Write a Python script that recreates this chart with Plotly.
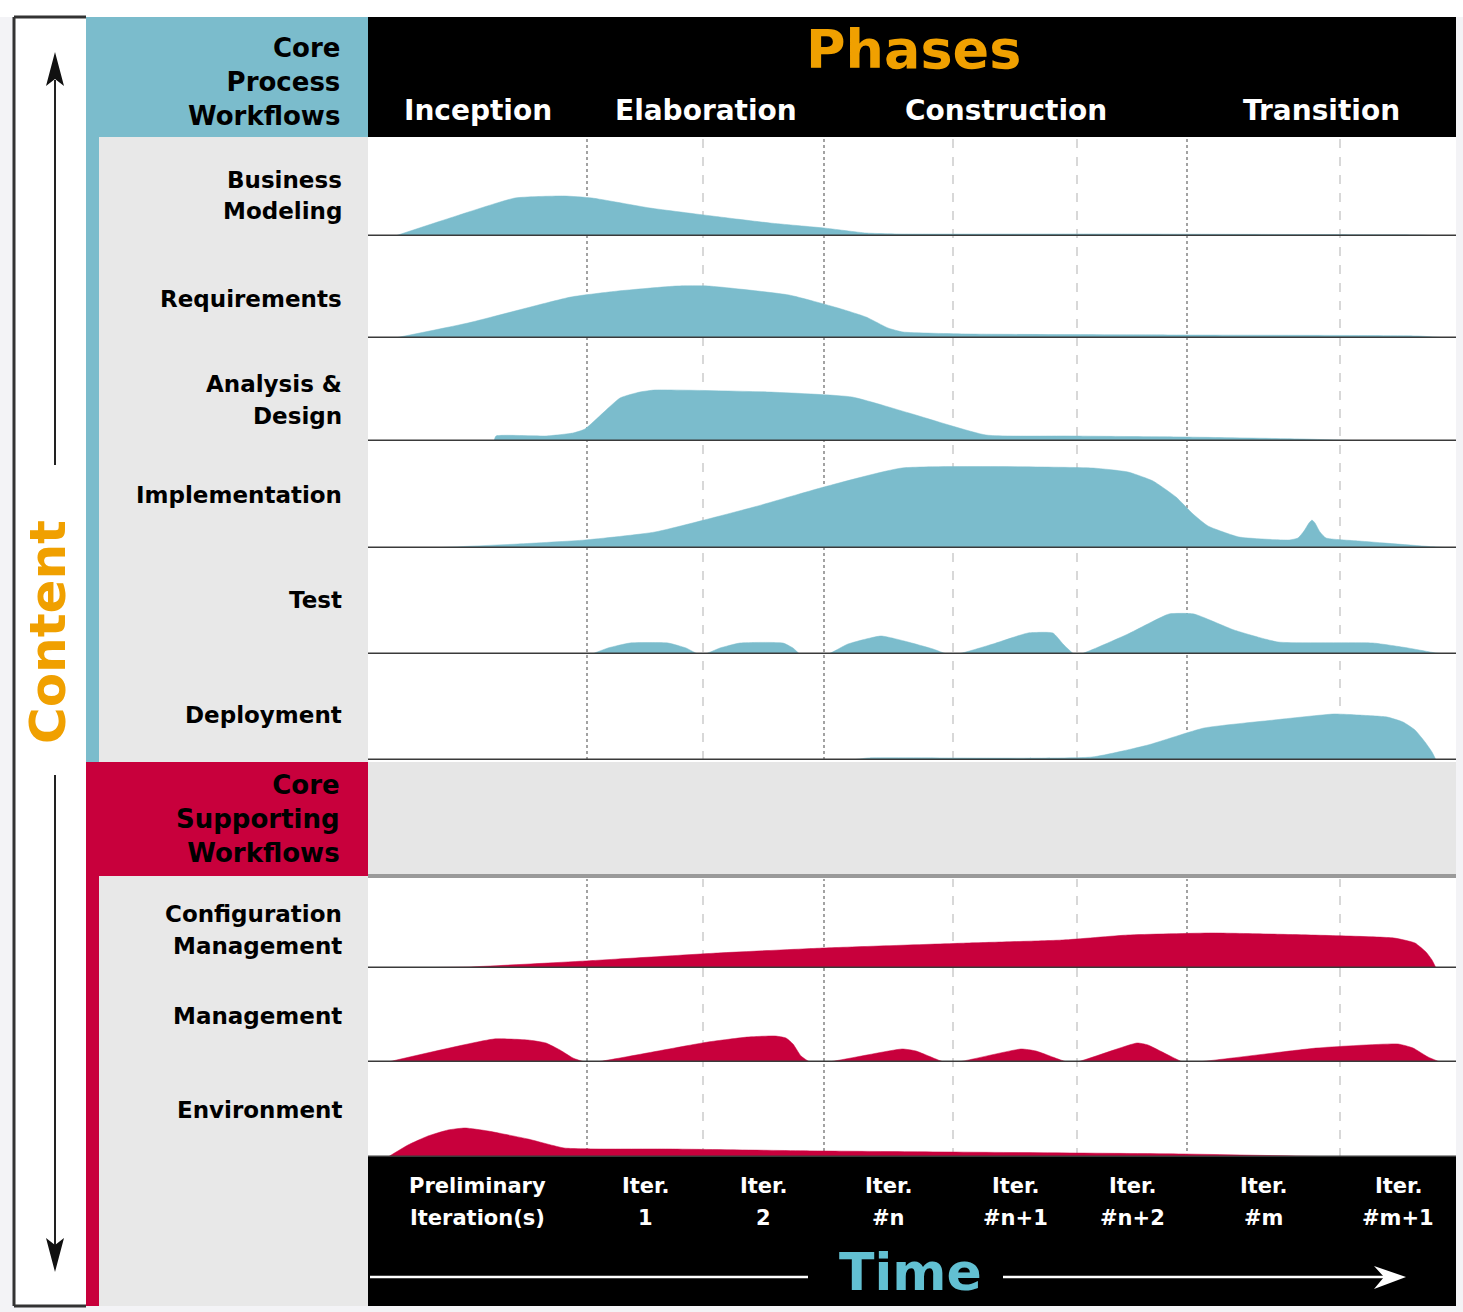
import plotly.graph_objects as go

W, H = 1463, 1312

# ---------------- data ----------------
# time axis (arbitrary units along the project), iteration boundaries
iteration_bounds = [0, 219, 335, 456, 585, 709, 819, 972, 1088]
iteration_top = ["Preliminary", "Iter.", "Iter.", "Iter.", "Iter.", "Iter.", "Iter.", "Iter."]
iteration_bottom = ["Iteration(s)", "1", "2", "#n", "#n+1", "#n+2", "#m", "#m+1"]
phase_names = ["Inception", "Elaboration", "Construction", "Transition"]
phase_bounds = [0, 219, 456, 819, 1088]

process_workflows = [["Business", "Modeling"], ["Requirements"], ["Analysis &", "Design"],
                     ["Implementation"], ["Test"], ["Deployment"]]
supporting_workflows = [["Configuration", "Management"], ["Management"], ["Environment"]]

bm_x = [27, 82, 147, 196, 224, 282, 344, 402, 456, 498, 532, 732, 932, 1052, 1072]
bm_y = [0, 18, 38, 40, 38, 28, 20, 13, 8, 3, 2, 2, 1.5, 1, 0]

req_x = [27, 100, 203, 250, 309, 340, 421, 470, 498, 520, 535, 600, 800, 1050, 1080]
req_y = [0, 15, 41, 47, 52, 52, 43, 30, 21, 10, 6, 4, 3, 2, 0]

ad_x = [126, 128, 178, 205, 217, 252, 272, 287, 400, 484, 541, 618, 700, 815, 935, 1000]
ad_y = [0, 5, 5, 8, 12, 43, 49, 51, 49, 44, 28, 6, 5, 4, 2, 0]

impl_x = [62, 150, 217, 287, 386, 456, 534, 724, 760, 785, 808, 825, 840, 871, 921, 930, 936, 941, 944,
          947, 952, 958, 991, 1068, 1088]
impl_y = [0, 4, 8, 16, 41, 61, 80, 80, 76, 67, 51, 34, 22, 11, 8, 10, 17, 25, 28, 25, 16, 10, 7, 1, 0]

test_x = [224, 240, 262, 300, 318, 330, 337, 352, 372, 415, 425, 432, 460, 480, 513, 540, 565, 579,
          590, 625, 660, 685, 695, 706, 713, 760, 801, 826, 866, 910, 1005, 1040, 1068, 1080]
test_y = [0, 6, 11, 11, 6, 0, 0, 6, 11, 11, 6, 0, 0, 10, 18, 12, 5, 0,
          0, 10, 21, 21, 10, 0, 0, 20, 40, 40, 24, 12, 11, 6, 1, 0]

dep_x = [484, 500, 724, 780, 836, 906, 966, 990, 1019, 1035, 1047, 1057, 1064, 1068]
dep_y = [0, 2, 3, 15, 32, 40, 46, 45, 43, 38, 30, 18, 8, 0]

cm_x = [0, 100, 217, 350, 456, 600, 695, 760, 843, 900, 1026, 1047, 1058, 1064, 1068]
cm_y = [0, 1, 7, 15, 20, 25, 28, 33, 35, 34, 30, 25, 16, 8, 0]

mgmt_x = [20, 126, 160, 178, 192, 205, 217, 228, 340, 380, 407, 418, 425, 433, 442,
          460, 534, 548, 576, 590, 653, 668, 699, 709, 769, 780, 815, 829, 949, 1030, 1045, 1060, 1072]
mgmt_y = [0, 23, 22, 19, 12, 4, 0, 0, 20, 25, 26, 24, 18, 6, 0,
          0, 13, 11, 0, 0, 13, 11, 0, 0, 19, 17, 0, 0, 14, 18, 14, 5, 0]

env_x = [20, 40, 60, 80, 97, 120, 160, 196, 230, 300, 456, 815, 977]
env_y = [0, 12, 21, 27, 29, 26, 18, 9, 8, 8, 6, 3, 0]

curves = [(bm_x, bm_y), (req_x, req_y), (ad_x, ad_y), (impl_x, impl_y), (test_x, test_y),
          (dep_x, dep_y), (cm_x, cm_y), (mgmt_x, mgmt_y), (env_x, env_y)]

# ---------------- layout geometry ----------------
BLUE = "#7bbccc"
RED = "#c8003c"
ORANGE = "#f0a000"
GRAYCOL = "#e8e8e8"
FONT = "DejaVu Sans"

# (top, baseline) pixel rows for each workflow band
rows_px = [(139, 236), (239, 338), (341, 441), (444, 548), (551, 654), (657, 760),
           (879, 968), (971, 1062), (1065, 1157)]
label_y_px = [(180, 211), (299,), (384, 416), (495,), (600,), (715,), (914, 946), (1016,), (1110,)]


def px(x):
    return x / W


def py(y):
    return 1 - y / H


fig = go.Figure()

for k, ((cx, cy), (top, base)) in enumerate(zip(curves, rows_px)):
    color = BLUE if k < 6 else RED
    yname = "y" if k == 0 else f"y{k + 1}"
    fig.add_trace(go.Scatter(x=cx, y=cy, mode="lines", fill="tozeroy",
                             line=dict(color=color, width=0.5, shape="spline", smoothing=0.45),
                             fillcolor=color,
                             xaxis="x", yaxis=yname, hoverinfo="skip", showlegend=False))

layout = dict(
    width=W, height=H, margin=dict(l=0, r=0, t=0, b=0),
    paper_bgcolor="#f3f3f6", plot_bgcolor="rgba(0,0,0,0)", showlegend=False,
    xaxis=dict(domain=[px(368), px(1456)], range=[0, 1088], visible=False,
               fixedrange=True, anchor="y"),
)
for k, (top, base) in enumerate(rows_px):
    key = "yaxis" if k == 0 else f"yaxis{k + 1}"
    layout[key] = dict(domain=[py(base), py(top)], range=[0, base - top], visible=False,
                       fixedrange=True, anchor="x")
fig.update_layout(**layout)

shapes = []


def rect(x0, y0, x1, y1, color, layer="below"):
    shapes.append(dict(type="rect", xref="paper", yref="paper", x0=px(x0), x1=px(x1),
                       y0=py(y1), y1=py(y0), fillcolor=color, line=dict(width=0), layer=layer))


def line(x0, y0, x1, y1, color, width, layer="above"):
    shapes.append(dict(type="line", xref="paper", yref="paper", x0=px(x0), x1=px(x1),
                       y0=py(y0), y1=py(y1), line=dict(color=color, width=width), layer=layer))


def poly(points, color):
    d = "M " + " L ".join(f"{px(a)},{py(b)}" for a, b in points) + " Z"
    shapes.append(dict(type="path", xref="paper", yref="paper", path=d, fillcolor=color,
                       line=dict(width=0), layer="above"))


rect(0, 0, 1463, 17, "white")
rect(14, 17, 86, 1306, "white")
rect(86, 17, 368, 137, BLUE)
rect(368, 17, 1456, 137, "black")
rect(86, 137, 99, 762, BLUE)
rect(99, 137, 368, 762, GRAYCOL)
rect(86, 762, 368, 876, RED)
rect(86, 876, 99, 1306, RED)
rect(99, 876, 368, 1306, GRAYCOL)
rect(368, 137, 1456, 1157, "white")
rect(368, 762, 1456, 876, "#e6e6e6")
rect(368, 1157, 1456, 1306, "black")

# dotted iteration separators
for b in iteration_bounds[1:-1]:
    major = b in phase_bounds
    for (ya, yb) in [(139, 760), (879, 1157)]:
        shapes.append(dict(type="line", xref="x", yref="paper", x0=b, x1=b, y0=py(yb), y1=py(ya),
                           line=dict(color="#8c8c8c" if major else "#c4c4c4",
                                     width=1.6 if major else 1.3,
                                     dash="dot" if major else "dash"),
                           layer="below"))

# baselines
for k, (top, base) in enumerate(rows_px):
    yref = "y" if k == 0 else f"y{k + 1}"
    shapes.append(dict(type="line", xref="x", yref=yref, x0=0, x1=1088, y0=0, y1=0,
                       line=dict(color="#3a3a3a", width=3), layer="above"))
line(368, 876, 1456, 876, "#9a9a9a", 4)

# frame of the left column
line(14, 17, 14, 1306, "#333333", 3)
line(14, 17, 86, 17, "#333333", 3)
line(14, 1306, 86, 1306, "#333333", 3)

# content arrows
line(55, 80, 55, 465, "#222222", 2)
poly([(55, 52), (46, 86), (55, 79), (64, 86)], "#111111")
line(55, 775, 55, 1245, "#222222", 2)
poly([(55, 1272), (46, 1238), (55, 1245), (64, 1238)], "#111111")

# time arrow
line(370, 1277, 808, 1277, "white", 2.5)
line(1003, 1277, 1390, 1277, "white", 2.5)
poly([(1406, 1277), (1374, 1266), (1384, 1277), (1374, 1289)], "white")

fig.update_layout(shapes=shapes)

ann = []


def text(x, y, s, size, color="black", xanchor="center", xref="paper", angle=0, align="center"):
    ann.append(dict(x=px(x) if xref == "paper" else x, y=py(y), xref=xref, yref="paper",
                    text=f"<b>{s}</b>", showarrow=False, xanchor=xanchor, yanchor="middle",
                    textangle=angle, align=align, font=dict(family=FONT, size=size, color=color)))


# header blocks
text(342, 82, "Core<br>Process<br>Workflows", 26, xanchor="right", align="right")
text(342, 819, "Core<br>Supporting<br>Workflows", 26, xanchor="right", align="right")

text(913, 50, "Phases", 54, color=ORANGE)
for name, a, b in zip(phase_names, phase_bounds[:-1], phase_bounds[1:]):
    text((a + b) / 2, 111, name, 28, color="white", xref="x")

for lines_, ys in zip(process_workflows + supporting_workflows, label_y_px):
    for s, y in zip(lines_, ys):
        text(344, y, s, 23, xanchor="right")

for t1, t2, a, b in zip(iteration_top, iteration_bottom, iteration_bounds[:-1], iteration_bounds[1:]):
    text((a + b) / 2, 1186, t1, 21, color="white", xref="x")
    text((a + b) / 2, 1218, t2, 21, color="white", xref="x")

text(911, 1272, "Time", 52, color="#62c0d2")
text(48, 632, "Content", 50, color=ORANGE, angle=-90)

fig.update_layout(annotations=ann)

fig.write_html("out.html", config={"displayModeBar": False},
               post_script="document.body.style.margin='0';document.body.style.overflow='hidden';")
